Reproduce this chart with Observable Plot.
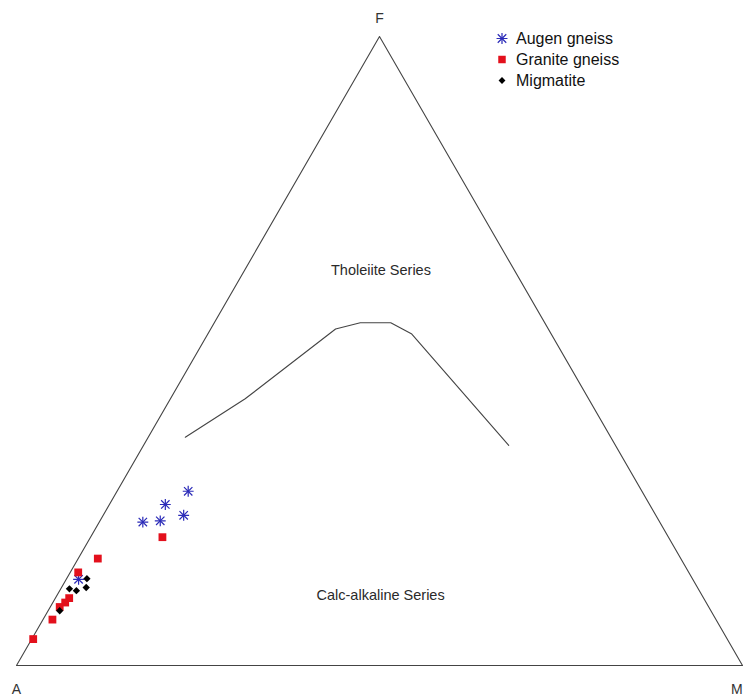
<!DOCTYPE html>
<html><head><meta charset="utf-8">
<script src="https://cdn.jsdelivr.net/npm/d3@7"></script>
<script src="https://cdn.jsdelivr.net/npm/@observablehq/plot@0.6"></script>
<style>
body{margin:0;background:#fff;font-family:"Liberation Sans",Arial,sans-serif;}
#wrap{position:relative;width:746px;height:700px;}
#legend{position:absolute;left:492px;top:28px;font-size:16px;color:#111;line-height:21px;}
.item{display:flex;align-items:center;height:21px;}
.item svg{width:20px;height:21px;margin-right:4px;overflow:visible;}
</style></head><body><div id="wrap"><div id="legend"></div></div>
<script>
// Ternary data (percent A, F, M)
const augenA = [62.5, 66.7, 71.2, 68.7, 65.1, 84.6];
const augenF = [27.7, 25.6, 22.8, 23.0, 23.9, 13.7];
const augenM = [ 9.8,  7.7,  6.0,  8.3, 11.1,  1.7];

const graniteA = [69.7, 80.3, 84.1, 87.3, 88.2, 89.4, 91.4, 95.6];
const graniteF = [20.4, 17.0, 14.8, 10.7, 10.0,  9.3,  7.3,  4.2];
const graniteM = [ 9.9,  2.7,  1.1,  1.9,  1.7,  1.3,  1.3,  0.2];

const migA = [83.4, 84.2, 85.8, 86.7, 89.7];
const migF = [13.8, 12.4, 11.9, 12.2,  8.7];
const migM = [ 2.8,  3.4,  2.3,  1.2,  1.6];

// Tholeiite / calc-alkaline dividing line
const lineA = [58.6, 47.3, 29.3, 25.4, 21.2, 19.2, 14.7];
const lineF = [36.3, 42.4, 53.5, 54.5, 54.5, 52.7, 35.0];
const lineM = [ 5.1, 10.3, 17.2, 20.1, 24.3, 28.1, 50.3];

const vertexNames = ["A", "M", "F"];
const vertexA = [100, 0, 0];
const vertexF = [0, 0, 100];
const vertexM = [0, 100, 0];

const seriesNames = ["Augen gneiss", "Granite gneiss", "Migmatite"];
const fieldLabels = ["Tholeiite Series", "Calc-alkaline Series"];
const fieldA = [18.4, 44.3];
const fieldF = [62.8, 11.1];
const fieldM = [18.8, 44.6];

const S3 = Math.sqrt(3) / 2;
const tx = d => (d.M + d.F / 2) / (d.A + d.F + d.M);
const ty = d => (d.F / (d.A + d.F + d.M)) * S3;
const rows = (A, F, M, extra = {}) => A.map((a, i) => ({A: a, F: F[i], M: M[i], ...extra}));

const augen = rows(augenA, augenF, augenM);
const granite = rows(graniteA, graniteF, graniteM);
const mig = rows(migA, migF, migM);
const curve = rows(lineA, lineF, lineM);
const verts = vertexNames.map((n, i) => ({name: n, A: vertexA[i], F: vertexF[i], M: vertexM[i]}));
const outline = [...verts, verts[0]];
const fields = fieldLabels.map((t, i) => ({t, A: fieldA[i], F: fieldF[i], M: fieldM[i]}));

const blue = "#2b2bb8", red = "#e3101c", black = "#000";

const chart = Plot.plot({
  width: 746, height: 700,
  marginLeft: 16, marginRight: 4, marginTop: 36, marginBottom: 35,
  x: {domain: [0, 1], axis: null},
  y: {domain: [0, S3], axis: null},
  style: {fontFamily: "'Liberation Sans', Arial, sans-serif", background: "#fff"},
  marks: [
    Plot.line(outline, {x: tx, y: ty, stroke: "#444", strokeWidth: 1.1}),
    Plot.line(curve, {x: tx, y: ty, stroke: "#444", strokeWidth: 1.1}),
    Plot.text(fields, {x: tx, y: ty, text: "t", fontSize: 14.5, fill: "#2a2a2a"}),
    Plot.text(verts, {x: tx, y: ty, text: "name", fontSize: 14, fill: "#333"}),
    Plot.dot(augen, {x: tx, y: ty, symbol: "plus", r: 3.6, stroke: blue, strokeWidth: 1.2}),
    Plot.dot(augen, {x: tx, y: ty, symbol: "times", r: 3.9, stroke: blue, strokeWidth: 1.2}),
    Plot.dot(granite, {x: tx, y: ty, symbol: "square", r: 4.4, fill: red, stroke: "none"}),
    Plot.dot(mig, {x: tx, y: ty, symbol: "diamond2", r: 3.3, fill: black, stroke: "none"})
  ]
});
document.getElementById("wrap").prepend(chart);

// vertex label offsets: below A and M, above F; keep M inside the frame
d3.select(chart).selectAll("text").filter(function(){ return ["A","M","F"].includes(this.textContent); })
  .attr("dy", function(){ return this.textContent === "F" ? "-1.25em" : "1.75em"; })
  .attr("dx", function(){ return this.textContent === "M" ? "-0.4em" : 0; });

// Legend
const legend = d3.select("#legend");
const specs = [
  {name: seriesNames[0], syms: [[d3.symbolPlus, 41], [d3.symbolTimes, 49]], fill: "none", stroke: blue, sw: 1.2},
  {name: seriesNames[1], syms: [[d3.symbolSquare, 56]], fill: red, stroke: "none", sw: 0},
  {name: seriesNames[2], syms: [[d3.symbolDiamond2, 30]], fill: black, stroke: "none", sw: 0}
];
for (const s of specs) {
  const it = legend.append("div").attr("class", "item");
  const svg = it.append("svg");
  for (const [sym, size] of s.syms) {
    svg.append("path").attr("transform", "translate(10,10.5)")
      .attr("d", d3.symbol(sym, size)()).attr("fill", s.fill).attr("stroke", s.stroke).attr("stroke-width", s.sw);
  }
  it.append("span").text(s.name);
}
</script></body></html>
